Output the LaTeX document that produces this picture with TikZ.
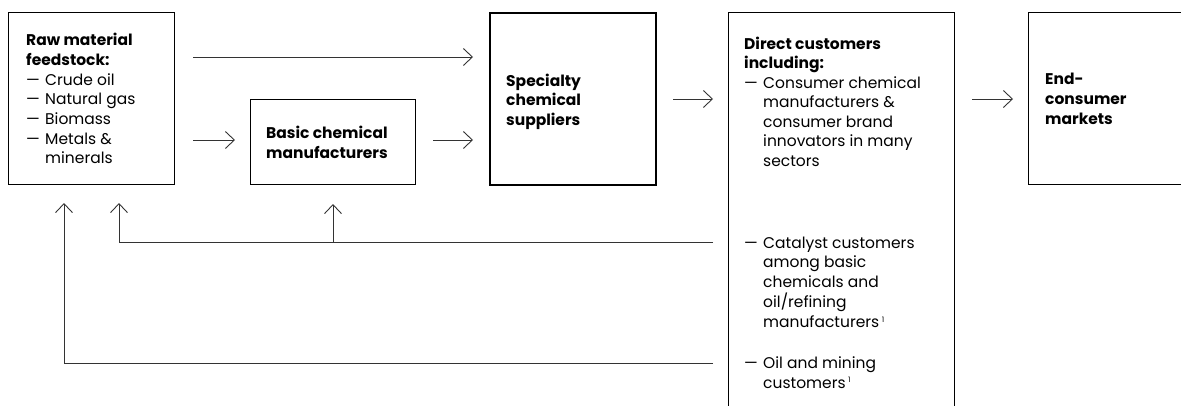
\documentclass[tikz,border=0pt]{standalone}
\usepackage{fontspec}
\setmainfont{Poppins}
\usetikzlibrary{arrows.meta}
\begin{document}
\begin{tikzpicture}[x=1pt,y=-1pt,
  box/.style={draw=black, line width=1pt, inner sep=0pt, anchor=north west},
  txt/.style={anchor=base west, inner sep=0pt, font=\fontsize{15.5}{18}\selectfont},
  btxt/.style={anchor=base west, inner sep=0pt, font=\fontsize{15.5}{18}\selectfont\bfseries},
  arr/.style={draw=black!80, line width=0.9pt, -{Straight Barb[length=9pt,width=17pt]}},
]
\useasboundingbox (0,0) rectangle (1181,405);
% boxes
\node[box, minimum width=166pt, minimum height=172pt] (raw) at (8,12) {};
\node[box, minimum width=165pt, minimum height=85pt] (basic) at (250,99) {};
\node[box, line width=2pt, minimum width=166pt, minimum height=172pt] (spec) at (489,12) {};
\node[box, minimum width=226pt, minimum height=420pt] (direct) at (728,12) {};
\node[box, minimum width=180pt, minimum height=172pt] (end) at (1028,12) {};
\newcommand{\dsh}{\makebox[19pt][l]{—}}
% raw material texts
\node[btxt] (r1) at (26,45.7) {Raw material};
\node[btxt] (r2) at (26,65.4) {feedstock:};
\node[txt] (r3) at (26,85.1) {\dsh Crude oil};
\node[txt] (r4) at (26,104.8) {\dsh Natural gas};
\node[txt] (r5) at (26,124.5) {\dsh Biomass};
\node[txt] (r6) at (26,144.2) {\dsh Metals \&};
\node[txt] (r7) at (45,163.9) {minerals};
% basic
\node[btxt] (b1) at (266,138.5) {Basic chemical};
\node[btxt] (b2) at (266,158) {manufacturers};
% specialty
\node[btxt] (s1) at (506,86) {Specialty};
\node[btxt] (s2) at (506,105.5) {chemical};
\node[btxt] (s3) at (506,125) {suppliers};
% direct
\node[btxt] (d1) at (744,49.3) {Direct customers};
\node[btxt] (d2) at (744,68.7) {including:};
\node[txt] (d3) at (744,88) {\dsh Consumer chemical};
\node[txt] (d4) at (763,107.7) {manufacturers \&};
\node[txt] (d5) at (763,127.3) {consumer brand};
\node[txt] (d6) at (763,146.7) {innovators in many};
\node[txt] (d7) at (763,166.3) {sectors};
\node[txt] (d8) at (744,248.3) {\dsh Catalyst customers};
\node[txt] (d9) at (763,267.7) {among basic};
\node[txt] (d10) at (763,287.7) {chemicals and};
\node[txt] (d11) at (763,307.7) {oil/refining};
\node[txt] (d12) at (763,327.7) {manufacturers\,\raisebox{5.5pt}{\fontsize{7.5}{7.5}\selectfont 1}};
\node[txt] (d13) at (744,368.3) {\dsh Oil and mining};
\node[txt] (d14) at (763,388.3) {customers\,\raisebox{5.5pt}{\fontsize{7.5}{7.5}\selectfont 1}};
% end
\node[btxt] (e1) at (1045,84.3) {End-};
\node[btxt] (e2) at (1045,104.3) {consumer};
\node[btxt] (e3) at (1045,124.3) {markets};
% forward arrows
\draw[arr, shorten <=18pt, shorten >=16pt] (raw.east |- 0,57) -- (spec.west |- 0,57);
\draw[arr, shorten <=18pt, shorten >=15pt] (raw.east |- 0,140) -- (basic.west |- 0,140);
\draw[arr, shorten <=17pt, shorten >=16pt] (basic.east |- 0,140) -- (spec.west |- 0,140);
\draw[arr, shorten <=16pt, shorten >=15pt] (spec.east |- 0,99) -- (direct.west |- 0,99);
\draw[arr, shorten <=17pt, shorten >=15pt] (direct.east |- 0,99) -- (end.west |- 0,99);
% feedback
\coordinate (fb1) at (119,184);
\coordinate (fb2) at (64,184);
\draw[arr, shorten <=15pt, shorten >=19pt] (direct.west |- 0,242) -| (fb1);
\draw[arr, shorten >=19pt] (basic.south |- 0,242) -- (basic.south);
\draw[arr, shorten <=15pt, shorten >=19pt] (direct.west |- 0,363) -| (fb2);
\end{tikzpicture}
\end{document}
